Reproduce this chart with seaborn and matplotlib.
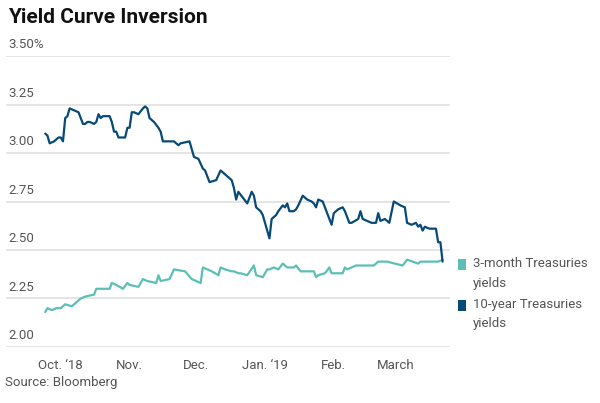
import pandas as pd
import matplotlib
matplotlib.use("Agg")
import matplotlib.pyplot as plt
import seaborn as sns
from matplotlib.patches import Rectangle
import matplotlib.transforms as mtransforms

# 10-year Treasuries yields
ten_dates = [
    "2018-09-24", "2018-09-25", "2018-09-26", "2018-09-28", "2018-09-30", "2018-10-01",
    "2018-10-02", "2018-10-03", "2018-10-04", "2018-10-05", "2018-10-07", "2018-10-09",
    "2018-10-10", "2018-10-11", "2018-10-12", "2018-10-13", "2018-10-14", "2018-10-16",
    "2018-10-17", "2018-10-18", "2018-10-19", "2018-10-20", "2018-10-21", "2018-10-23",
    "2018-10-24", "2018-10-25", "2018-10-26", "2018-10-27", "2018-10-29", "2018-10-30",
    "2018-10-31", "2018-11-01", "2018-11-02", "2018-11-03", "2018-11-05", "2018-11-07",
    "2018-11-08", "2018-11-09", "2018-11-10", "2018-11-12", "2018-11-14", "2018-11-15",
    "2018-11-16", "2018-11-21", "2018-11-23", "2018-11-24", "2018-11-28", "2018-11-30",
    "2018-12-02", "2018-12-04", "2018-12-05", "2018-12-07", "2018-12-10", "2018-12-12",
    "2018-12-13", "2018-12-15", "2018-12-17", "2018-12-18", "2018-12-19", "2018-12-20",
    "2018-12-22", "2018-12-24", "2018-12-26", "2018-12-27", "2018-12-28", "2018-12-30",
    "2018-12-31", "2019-01-01", "2019-01-02", "2019-01-03", "2019-01-04", "2019-01-06",
    "2019-01-07", "2019-01-09", "2019-01-10", "2019-01-11", "2019-01-12", "2019-01-14",
    "2019-01-15", "2019-01-16", "2019-01-18", "2019-01-20", "2019-01-22", "2019-01-23",
    "2019-01-24", "2019-01-25", "2019-01-27", "2019-01-29", "2019-01-31", "2019-02-01",
    "2019-02-03", "2019-02-05", "2019-02-06", "2019-02-08", "2019-02-09", "2019-02-12",
    "2019-02-13", "2019-02-14", "2019-02-16", "2019-02-18", "2019-02-20", "2019-02-21",
    "2019-02-22", "2019-02-24", "2019-02-26", "2019-02-28", "2019-03-03", "2019-03-05",
    "2019-03-06", "2019-03-08", "2019-03-10", "2019-03-11", "2019-03-12", "2019-03-13",
    "2019-03-14", "2019-03-16", "2019-03-19", "2019-03-20", "2019-03-21", "2019-03-22",
]
ten_year = [
    3.10, 3.09, 3.05, 3.06, 3.08, 3.08,
    3.06, 3.18, 3.19, 3.23, 3.22, 3.21,
    3.18, 3.15, 3.15, 3.16, 3.16, 3.15,
    3.16, 3.20, 3.18, 3.19, 3.19, 3.19,
    3.16, 3.11, 3.11, 3.08, 3.08, 3.08,
    3.13, 3.13, 3.21, 3.21, 3.20, 3.23,
    3.24, 3.23, 3.18, 3.16, 3.13, 3.11,
    3.06, 3.06, 3.04, 3.05, 3.06, 2.98,
    2.97, 2.92, 2.91, 2.85, 2.86, 2.91,
    2.90, 2.88, 2.86, 2.82, 2.76, 2.80,
    2.77, 2.74, 2.80, 2.78, 2.72, 2.70,
    2.68, 2.64, 2.60, 2.56, 2.66, 2.68,
    2.70, 2.73, 2.72, 2.74, 2.70, 2.70,
    2.71, 2.73, 2.78, 2.76, 2.75, 2.74,
    2.72, 2.76, 2.75, 2.69, 2.63, 2.69,
    2.71, 2.72, 2.70, 2.64, 2.64, 2.66,
    2.70, 2.66, 2.65, 2.64, 2.64, 2.69,
    2.65, 2.66, 2.64, 2.75, 2.73, 2.72,
    2.64, 2.63, 2.64, 2.62, 2.63, 2.60,
    2.62, 2.61, 2.61, 2.54, 2.54, 2.44,
]

# 3-month Treasuries yields
three_dates = [
    "2018-09-24", "2018-09-25", "2018-09-27", "2018-09-29", "2018-10-01", "2018-10-03",
    "2018-10-06", "2018-10-08", "2018-10-10", "2018-10-12", "2018-10-16", "2018-10-17",
    "2018-10-18", "2018-10-23", "2018-10-24", "2018-10-26", "2018-10-29", "2018-10-31",
    "2018-11-01", "2018-11-05", "2018-11-07", "2018-11-09", "2018-11-13", "2018-11-14",
    "2018-11-15", "2018-11-19", "2018-11-21", "2018-11-26", "2018-11-29", "2018-12-03",
    "2018-12-04", "2018-12-06", "2018-12-08", "2018-12-11", "2018-12-12", "2018-12-14",
    "2018-12-17", "2018-12-18", "2018-12-20", "2018-12-21", "2018-12-24", "2018-12-27",
    "2018-12-28", "2018-12-31", "2019-01-02", "2019-01-03", "2019-01-05", "2019-01-07",
    "2019-01-09", "2019-01-11", "2019-01-14", "2019-01-15", "2019-01-17", "2019-01-23",
    "2019-01-24", "2019-01-25", "2019-01-28", "2019-01-30", "2019-01-31", "2019-02-02",
    "2019-02-05", "2019-02-06", "2019-02-07", "2019-02-09", "2019-02-11", "2019-02-14",
    "2019-02-16", "2019-02-19", "2019-02-21", "2019-02-25", "2019-03-04", "2019-03-06",
    "2019-03-11", "2019-03-12", "2019-03-14", "2019-03-20", "2019-03-22",
]
three_month = [
    2.18, 2.20, 2.19, 2.20, 2.20, 2.22,
    2.21, 2.23, 2.25, 2.26, 2.27, 2.30,
    2.30, 2.30, 2.33, 2.32, 2.30, 2.33,
    2.32, 2.31, 2.35, 2.34, 2.33, 2.37,
    2.34, 2.35, 2.40, 2.39, 2.35, 2.33,
    2.41, 2.40, 2.39, 2.37, 2.41, 2.40,
    2.39, 2.39, 2.38, 2.38, 2.37, 2.42,
    2.37, 2.36, 2.40, 2.40, 2.41, 2.40,
    2.43, 2.41, 2.41, 2.42, 2.39, 2.39,
    2.36, 2.37, 2.38, 2.41, 2.38, 2.38,
    2.38, 2.41, 2.40, 2.41, 2.42, 2.42,
    2.42, 2.42, 2.44, 2.44, 2.42, 2.45,
    2.43, 2.44, 2.44, 2.44, 2.45,
]

series_names = ["3-month Treasuries\nyields", "10-year Treasuries\nyields"]
series_colors = ["#5cbfb6", "#074a78"]

y_ticks = [2.00, 2.25, 2.50, 2.75, 3.00, 3.25, 3.50]
y_labels = ["2.00", "2.25", "2.50", "2.75", "3.00", "3.25", "3.50%"]
x_ticks = ["2018-10-01", "2018-11-01", "2018-12-01", "2019-01-01", "2019-02-01", "2019-03-01"]
x_labels = ["Oct. \u201818", "Nov.", "Dec.", "Jan. \u201819", "Feb.", "March"]

df = pd.concat([
    pd.DataFrame({"date": pd.to_datetime(three_dates), "yield": three_month, "series": series_names[0]}),
    pd.DataFrame({"date": pd.to_datetime(ten_dates), "yield": ten_year, "series": series_names[1]}),
])

sns.set_style("white")
plt.rcParams["font.family"] = ["Roboto", "DejaVu Sans"]

fig = plt.figure(figsize=(6, 4.03), dpi=100)
ax = fig.add_axes([0.01, 0.139, 0.74, 0.722])

# gridlines
for t in y_ticks:
    ax.axhline(t, color="#e3e3e3", lw=1.3, zorder=0)

sns.lineplot(data=df, x="date", y="yield", hue="series", hue_order=series_names,
             palette=series_colors, linewidth=1.6, legend=False, ax=ax, zorder=3)

ax.set_ylim(2.0, 3.5)
ax.set_xlim(pd.Timestamp("2018-09-06 08:00"), pd.Timestamp("2019-03-25 08:00"))
for s in ax.spines.values():
    s.set_visible(False)

ax.set_yticks([])
ax.set_xticks(pd.to_datetime(x_ticks))
ax.set_xticklabels(x_labels)
ax.tick_params(axis="x", length=5, width=1.2, color="#e3e3e3", pad=4,
               labelsize=9.5, labelcolor="#555555")
ax.set_xlabel("")
ax.set_ylabel("")

# y labels sit above gridlines at the left
trans = mtransforms.blended_transform_factory(ax.transAxes, ax.transData)
for t, lab in zip(y_ticks, y_labels):
    ax.text(0.005, t + 0.025, lab, transform=trans, ha="left", va="bottom",
            fontsize=9.5, color="#555555")

fig.text(0.013, 0.957, "Yield Curve Inversion", fontsize=15, fontweight="bold",
         color="#111111", va="center", ha="left")
fig.text(0.008, 0.052, "Source: Bloomberg", fontsize=9.5, color="#555555",
         va="center", ha="left")

# legend: square aligned with first text line
leg_top = [1 - 264 / 403, 1 - 305 / 403]
for name, color, yy in zip(series_names, series_colors, leg_top):
    fig.patches.append(Rectangle((458 / 600, yy - 6 / 403), 8 / 600, 11 / 403,
                                 transform=fig.transFigure, facecolor=color,
                                 edgecolor="none"))
    fig.text(473 / 600, yy + 7 / 403, name, fontsize=9.5, color="#555555",
             va="top", ha="left", linespacing=1.65)

fig.savefig("out.png", dpi=100)
